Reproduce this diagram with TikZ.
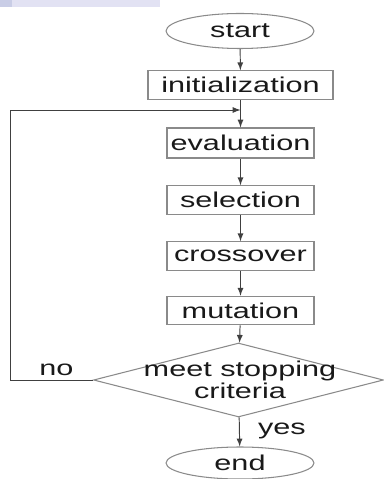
\documentclass[tikz,border=0pt]{standalone}
\usepackage{fontspec}
\setmainfont{Liberation Sans}[FakeStretch=1.43]
\usetikzlibrary{shapes.geometric, arrows}
\definecolor{boxgray}{HTML}{8A8A8A}
\definecolor{linegray}{HTML}{404040}
\definecolor{bannerblue}{HTML}{C9CDE6}
\definecolor{bannerlav}{HTML}{E2E2F3}
\tikzset{
>=latex, % small filled arrow heads
x=0.02cm, y=-0.02cm, % one unit is one pixel of the picture
every node/.style={font=\fontsize{12.2}{12.7}\selectfont, text=black!90},
terminal/.style={ellipse, draw=boxgray, line width=0.6pt, inner sep=0pt, minimum width=2.96cm, minimum height=0.7cm}, % start and end
process/.style={rectangle, draw=boxgray, line width=0.6pt, inner sep=0pt, minimum width=2.94cm, minimum height=0.57cm}, % one step of the loop
decision/.style={diamond, draw=boxgray, line width=0.6pt, inner sep=0pt, minimum width=5.8cm, minimum height=1.48cm}, % the test
flow/.style={->, draw=linegray, line width=0.55pt}, % the connectors
}
\begin{document}
\begin{tikzpicture}
        \useasboundingbox (0,0) rectangle (384,479);
        % faded banner at the top edge
        \fill[bannerlav] (0,0) rectangle (160,7);
        \fill[bannerblue] (0,0) rectangle (12,7);

        \node[terminal] (start) at (240,31) {start};
        \node[process, minimum width=3.7cm] (init) at (240.5,85) {initialization};
        \node[process, minimum height=0.6cm] (evaluation) at (240.5,143) {evaluation};
        \node[process] (selection) at (240.5,200) {selection};
        \node[process] (crossover) at (240.5,256) {crossover};
        \node[process] (mutation) at (240.5,310.5) {mutation};
        \node[decision] (criteria) at (238.5,380) {};
        \node[align=center] (criteria-text) at (240,380) {meet stopping\\criteria};
        \node[terminal, minimum height=0.64cm] (end) at (240,463) {end};

        \coordinate (join) at (240.5,110);
        \coordinate (loop) at (10,110);

        \draw[flow] (start) -- (init);
        \draw[flow] (init) -- (evaluation);
        \draw[flow] (evaluation) -- (selection);
        \draw[flow] (selection) -- (crossover);
        \draw[flow] (crossover) -- (mutation);
        \draw[flow] (mutation) -- (criteria);
        \draw[flow] (criteria) -- node[right=7pt, pos=0.45]{yes} (end);
        \draw[flow] (criteria.west) -| node[pos=0.22, above=-1pt]{no} (loop) -- (join);
    \end{tikzpicture}
\end{document}
